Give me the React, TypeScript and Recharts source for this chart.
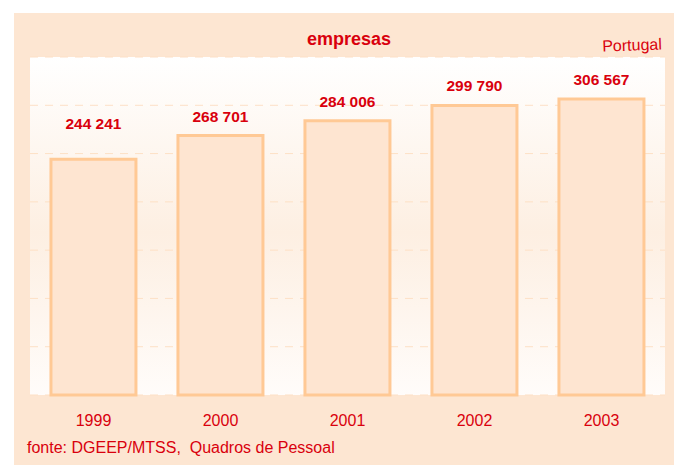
import { BarChart, Bar, XAxis, YAxis, CartesianGrid, LabelList } from 'recharts'

const years = ['1999', '2000', '2001', '2002', '2003']
const empresas = [244241, 268701, 284006, 299790, 306567]
const yTicks = [0, 50000, 100000, 150000, 200000, 250000, 300000, 350000]

const data = years.map((year, i) => ({ year, empresas: empresas[i] }))

const RED = '#d9000d'
const FONT = '"Liberation Sans", Arial, sans-serif'

const fmt = (v: number) => String(v).replace(/\B(?=(\d{3})+(?!\d))/g, ' ')

function YearTick(props: any) {
  const { x, y, payload } = props
  return (
    <text x={x} y={y + 23} textAnchor="middle" fill={RED} fontSize={16} fontFamily={FONT}>
      {payload.value}
    </text>
  )
}

function ValueLabel(props: any) {
  const { x, y, width, value } = props
  const i = empresas.indexOf(Number(value))
  // the first label sits higher above its bar in the original
  const lift = i === 0 ? 30 : 14
  return (
    <text
      x={Number(x) + Number(width) / 2}
      y={Number(y) - lift}
      textAnchor="middle"
      fill={RED}
      fontSize={15.5}
      fontWeight="bold"
      fontFamily={FONT}
    >
      {fmt(Number(value))}
    </text>
  )
}

export default function App() {
  return (
    <div style={{ position: 'absolute', left: 0, top: 0, width: 674, height: 465, background: '#fff', fontFamily: FONT }}>
      {/* peach panel */}
      <div style={{ position: 'absolute', left: 14, top: 13, width: 660, height: 452, background: '#fde6d2' }} />

      <div style={{ position: 'absolute', left: 0, top: 0 }}>
        <BarChart
          width={674}
          height={465}
          data={data}
          margin={{ top: 57, right: 9, left: 30, bottom: 40 }}
          barCategoryGap="16.5%"
        >
          <defs>
            <linearGradient id="plotBg" x1="0" y1="0" x2="0" y2="1">
              <stop offset="0%" stopColor="#ffffff" />
              <stop offset="52%" stopColor="#fdefe2" />
              <stop offset="100%" stopColor="#fffcfa" />
            </linearGradient>
          </defs>
          <CartesianGrid
            vertical={false}
            stroke="#fde0c6"
            strokeDasharray="8 7"
            fill="url(#plotBg)"
            fillOpacity={1}
          />
          <XAxis
            dataKey="year"
            height={30}
            axisLine={false}
            tickLine={false}
            tick={<YearTick />}
            interval={0}
          />
          <YAxis hide domain={[0, 350000]} ticks={yTicks} />
          <Bar dataKey="empresas" fill="#fee5d1" stroke="#ffc995" strokeWidth={3} isAnimationActive={false}>
            <LabelList dataKey="empresas" content={<ValueLabel />} />
          </Bar>
        </BarChart>
      </div>

      <svg width={674} height={465} style={{ position: 'absolute', left: 0, top: 0, pointerEvents: 'none' }}>
        <text x={349} y={44.7} textAnchor="middle" fill={RED} fontSize={18} fontWeight="bold" fontFamily={FONT}>
          empresas
        </text>
        <text
          x={662}
          y={49.5}
          textAnchor="end"
          fill={RED}
          fontSize={16}
          fontFamily={FONT}
          transform="rotate(-2 662 49.5)"
        >
          Portugal
        </text>
        <text x={27} y={452.7} fill={RED} fontSize={16} fontFamily={FONT} style={{ whiteSpace: 'pre' }}>
          {'fonte: DGEEP/MTSS,  Quadros de Pessoal'}
        </text>
      </svg>
    </div>
  )
}
